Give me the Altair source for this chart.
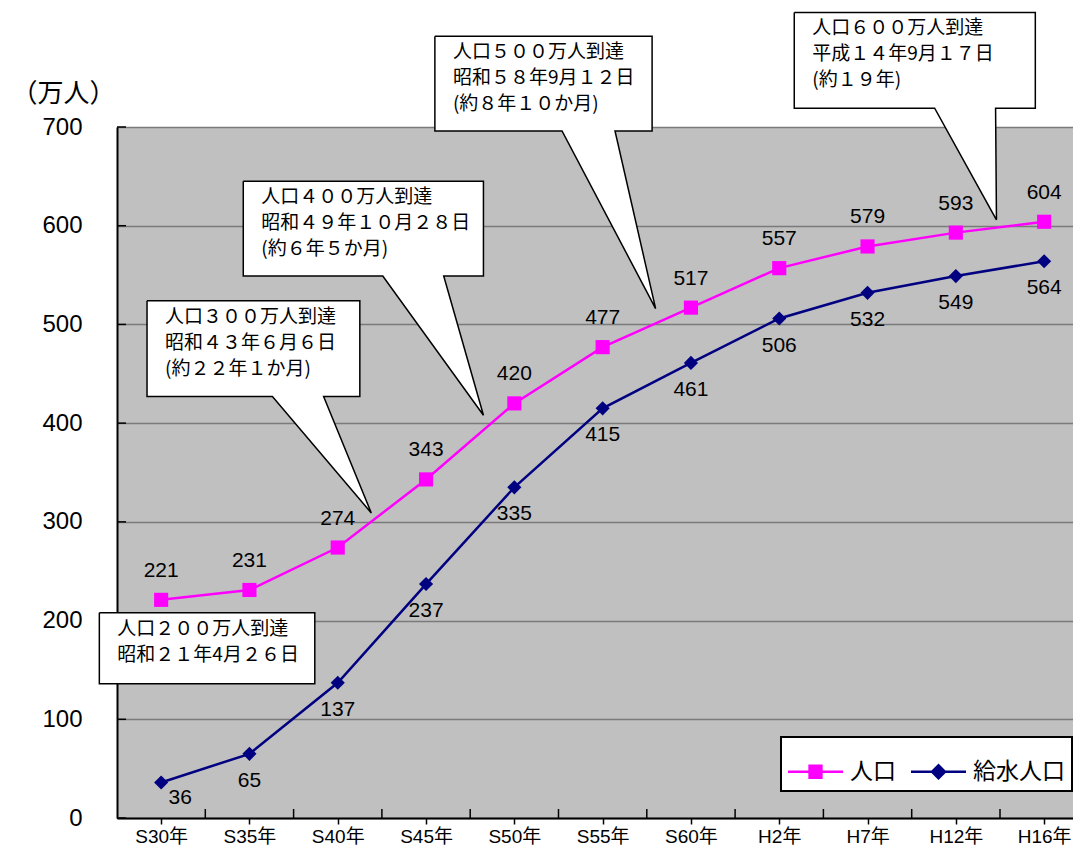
import json
import altair as alt
import pandas as pd

# ---------------- data ----------------
categories = ["S30年", "S35年", "S40年", "S45年", "S50年", "S55年",
              "S60年", "H2年", "H7年", "H12年", "H16年"]
population = [221, 231, 274, 343, 420, 477, 517, 557, 579, 593, 604]
supplied = [36, 65, 137, 237, 335, 415, 461, 506, 532, 549, 564]
series_names = ["人口", "給水人口"]
series_colors = ["#FF00FF", "#000080"]

callout_texts = [
    "人口２００万人到達\n昭和２１年4月２６日",
    "人口３００万人到達\n昭和４３年６月６日\n(約２２年１か月)",
    "人口４００万人到達\n昭和４９年１０月２８日\n(約６年５か月)",
    "人口５００万人到達\n昭和５８年9月１２日\n(約８年１０か月)",
    "人口６００万人到達\n平成１４年9月１７日\n(約１９年)",
]
# callout geometry in data units (x: category index, y: 万人)
callout_x0 = [-0.70, -0.16, 0.93, 3.10, 7.17]
callout_x1 = [1.74, 2.25, 3.65, 5.56, 9.90]
callout_top = [208, 524, 645, 792, 816]
callout_bottom = [136, 427, 549, 696, 719]
pointer_left = [None, 1.26, 2.51, 4.54, 8.76]
pointer_right = [None, 1.84, 3.20, 5.14, 9.45]
pointer_tip_x = [None, 2.38, 3.65, 5.60, 9.46]
pointer_tip_y = [None, 309, 408, 516, 606]

y_ticks = [0, 100, 200, 300, 400, 500, 600, 700]

# ---------------- tables ----------------
idx = list(range(len(categories)))
df_pop = pd.DataFrame({"i": idx, "v": population, "cat": categories})
df_sup = pd.DataFrame({"i": idx, "v": supplied, "cat": categories})

rows = []
for b in range(len(callout_texts)):
    x0, x1, yt, yb = callout_x0[b], callout_x1[b], callout_top[b], callout_bottom[b]
    pts = [(x0, yt), (x1, yt), (x1, yb)]
    if pointer_tip_x[b] is not None:
        pts += [(pointer_right[b], yb), (pointer_tip_x[b], pointer_tip_y[b]),
                (pointer_left[b], yb)]
    pts += [(x0, yb), (x0, yt)]
    for k, (px, py) in enumerate(pts):
        rows.append({"b": b, "k": k, "x": px, "y": py})
df_bubble = pd.DataFrame(rows)
df_btext = pd.DataFrame({"x": callout_x0, "y": callout_top, "t": callout_texts})

df_leg = pd.DataFrame({"series": series_names, "i": [0, 0], "v": [0, 0]})
df_xt = pd.DataFrame({"i": [k + 0.5 for k in range(len(categories) - 1)], "v": 0})
df_yt = pd.DataFrame({"i": -0.5, "v": y_ticks})

NUM_FONT = "Liberation Sans, Noto Sans CJK JP"
CJK_FONT = "Noto Sans CJK JP"

W, H = 956, 691
xscale = alt.Scale(domain=[-0.5, -0.5 + W / 88.3], nice=False, zero=False)
yscale = alt.Scale(domain=[0, 700], nice=False, zero=False)

label_expr = json.dumps(categories, ensure_ascii=False) + "[datum.value]"

X = alt.X("i:Q", scale=xscale,
          axis=alt.Axis(values=idx, labelExpr=label_expr, title=None, grid=False,
                        tickSize=6, tickColor="black", tickWidth=1.5,
                        domainColor="black", domainWidth=2,
                        labelFont=NUM_FONT, labelFontSize=19, labelColor="black",
                        labelPadding=3))
Y = alt.Y("v:Q", scale=yscale,
          axis=alt.Axis(values=y_ticks, title="（万人）", titleAngle=0,
                        titleAlign="left", titleBaseline="middle",
                        titleX=-106, titleY=-34, titleFont=CJK_FONT,
                        titleFontSize=26, titleFontWeight="normal", titleColor="black",
                        grid=True, gridColor="#7a7a7a", gridWidth=1.5,
                        ticks=False, tickSize=0, domainColor="black", domainWidth=2,
                        labelFont=NUM_FONT, labelFontSize=24, labelColor="black",
                        labelPadding=35))

Xp = alt.X("i:Q", scale=xscale)
Yp = alt.Y("v:Q", scale=yscale)

base_axes = alt.Chart(df_pop).mark_line(opacity=0).encode(x=X, y=Y)

line_pop = alt.Chart(df_pop).mark_line(color=series_colors[0], strokeWidth=2.5).encode(x=Xp, y=Yp)
line_sup = alt.Chart(df_sup).mark_line(color=series_colors[1], strokeWidth=2.5).encode(x=Xp, y=Yp)
pts_pop = alt.Chart(df_pop).mark_point(shape="square", filled=True, size=200, opacity=1,
                                       color=series_colors[0]).encode(x=Xp, y=Yp)
pts_sup = alt.Chart(df_sup).mark_point(shape="diamond", filled=True, size=200, opacity=1,
                                       color=series_colors[1]).encode(x=Xp, y=Yp)

lab_pop = alt.Chart(df_pop).mark_text(font=NUM_FONT, fontSize=21, color="black",
                                      dy=-29).encode(x=Xp, y=Yp, text="v:Q")
lab_sup = alt.Chart(df_sup).transform_filter("datum.i > 0").mark_text(
    font=NUM_FONT, fontSize=21, color="black", dy=27).encode(x=Xp, y=Yp, text="v:Q")
lab_sup0 = alt.Chart(df_sup).transform_filter("datum.i == 0").mark_text(
    font=NUM_FONT, fontSize=21, color="black", dx=19, dy=16).encode(x=Xp, y=Yp, text="v:Q")

bubbles = alt.Chart(df_bubble).mark_line(fill="white", stroke="black", strokeWidth=1.5,
                                         strokeJoin="miter", interpolate="linear").encode(
    x=alt.X("x:Q", scale=xscale), y=alt.Y("y:Q", scale=yscale),
    detail="b:N", order="k:Q")
btext = alt.Chart(df_btext).mark_text(font=CJK_FONT, fontSize=19, color="black",
                                      align="left", baseline="top", lineBreak="\n",
                                      lineHeight=26, dx=18, dy=7).encode(
    x=alt.X("x:Q", scale=xscale), y=alt.Y("y:Q", scale=yscale), text="t:N")

xticks_in = alt.Chart(df_xt).mark_tick(orient="vertical", size=9, thickness=1.5,
                                       color="black", yOffset=-4.5, opacity=1).encode(x=Xp, y=Yp)
yticks_in = alt.Chart(df_yt).mark_tick(orient="horizontal", size=9, thickness=1.5,
                                       color="black", xOffset=4.5, opacity=1).encode(x=Xp, y=Yp)

leg_paths = [
    "M-1,-0.045H1V0.045H-1Z M-0.26,-0.26H0.26V0.26H-0.26Z",
    "M-1,-0.045H1V0.045H-1Z M0,-0.3L0.3,0L0,0.3L-0.3,0Z",
]
legend = alt.Legend(orient="none", legendX=664, legendY=610, direction="horizontal",
                    title=None, fillColor="white", strokeColor="black", padding=7,
                    symbolSize=3025, symbolStrokeWidth=0, symbolOpacity=1,
                    labelFont=CJK_FONT, labelFontSize=23, labelColor="black",
                    labelOffset=7, columnPadding=15)
leg_layer = alt.Chart(df_leg).transform_filter("false").mark_point(filled=True, opacity=1).encode(
    x=Xp, y=Yp,
    color=alt.Color("series:N", scale=alt.Scale(domain=series_names, range=series_colors),
                    legend=legend),
    shape=alt.Shape("series:N", scale=alt.Scale(domain=series_names, range=leg_paths),
                    legend=legend),
)

chart = alt.layer(
    base_axes, line_pop, line_sup, pts_pop, pts_sup,
    xticks_in, yticks_in,
    lab_pop, lab_sup, lab_sup0,
    bubbles, btext, leg_layer,
).properties(
    width=W, height=H,
    padding={"left": 109, "top": 119, "right": 0, "bottom": 29},
    autosize=alt.AutoSizeParams(type="none"),
    background="white",
).configure_view(
    fill="#C0C0C0", stroke=None,
).configure_legend(
    strokeWidth=2,
)

chart.save("out.html", embed_options={"renderer": "svg", "actions": False})
